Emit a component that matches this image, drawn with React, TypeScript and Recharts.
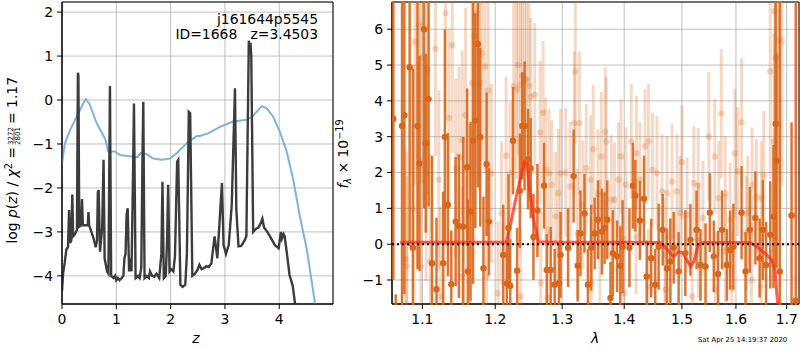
import React from "react";
import {
  ComposedChart,
  Line,
  Scatter,
  ErrorBar,
  XAxis,
  YAxis,
  CartesianGrid,
  ReferenceLine,
  ReferenceArea,
} from "recharts";

// left panel: log p(z) (dark) and scaled chi2 (blue)
const pzZ = [0, 0.02, 0.05, 0.08, 0.11, 0.13, 0.15, 0.17, 0.19, 0.205, 0.24, 0.275, 0.293, 0.302, 0.318, 0.35, 0.368, 0.385, 0.44, 0.475, 0.487, 0.5, 0.58, 0.62, 0.645, 0.66, 0.675, 0.7, 0.74, 0.765, 0.785, 0.83, 0.855, 0.883, 0.905, 0.95, 0.98, 1.0, 1.03, 1.06, 1.1, 1.13, 1.15, 1.17, 1.19, 1.21, 1.235, 1.26, 1.28, 1.31, 1.325, 1.355, 1.4, 1.43, 1.46, 1.485, 1.497, 1.52, 1.56, 1.6, 1.62, 1.66, 1.7, 1.74, 1.79, 1.83, 1.85, 1.875, 1.91, 1.935, 1.955, 1.98, 2.01, 2.05, 2.08, 2.12, 2.14, 2.18, 2.22, 2.27, 2.3, 2.335, 2.36, 2.4, 2.45, 2.5, 2.53, 2.57, 2.62, 2.66, 2.7, 2.75, 2.79, 2.81, 2.835, 2.86, 2.9, 2.945, 2.975, 3.02, 3.07, 3.125, 3.185, 3.21, 3.25, 3.3, 3.36, 3.395, 3.44, 3.455, 3.47, 3.485, 3.52, 3.58, 3.62, 3.665, 3.69, 3.72, 3.78, 3.83, 3.92, 3.99, 4.03, 4.05, 4.08, 4.1, 4.14, 4.19, 4.25, 4.29, 4.33];
const pzLog = [-4.35, -3.95, -3.7, -3.4, -3.35, -2.5, -3.25, -3.2, -2.15, -3.1, -3.05, -2.95, 0.62, 0.55, -2.88, -2.85, -2.25, -2.85, -2.85, -2.85, -2.55, -2.85, -3.14, -3.35, -3.2, -2.1, -2.05, -3.45, -2.9, -1.36, -3.6, -3.9, -3.95, 0.32, -4.0, -4.05, -4.0, -4.1, -4.05, -4.1, -4.05, -4.0, -3.6, -3.5, -2.6, -2.46, -3.9, -3.6, -3.9, -1.5, -0.08, -4.05, -4.0, -4.05, -3.8, -1.0, -0.04, -4.05, -4.0, -4.05, -3.9, -4.0, -4.02, -3.95, -4.05, -3.5, -1.86, -4.05, -4.0, -3.2, -1.93, -3.9, -3.85, -3.9, -3.55, -1.4, -1.36, -4.2, -4.25, -4.2, -3.5, -0.27, -0.3, -4.0, -3.95, -3.85, -3.75, -3.85, -3.82, -3.78, -3.8, -3.72, -3.3, -3.1, -3.35, -3.6, -2.8, -1.89, -3.3, -3.5, -3.3, -2.4, 0.27, -2.5, -3.33, -3.32, -3.2, -3.1, 1.35, 1.2, 1.3, 1.0, -3.0, -2.92, -2.9, -2.78, -2.7, -2.9, -3.0, -3.1, -3.3, -3.37, -3.0, -3.15, -3.05, -3.1, -3.48, -3.98, -4.24, -4.62, -5.0];

const chiZ = [0, 0.055, 0.15, 0.27, 0.39, 0.44, 0.51, 0.64, 0.76, 0.8, 0.85, 0.97, 1.07, 1.31, 1.39, 1.45, 1.56, 1.68, 1.84, 1.99, 2.11, 2.3, 2.48, 2.54, 2.69, 2.91, 3.15, 3.4, 3.5, 3.68, 3.77, 3.89, 4.01, 4.13, 4.26, 4.38, 4.51, 4.66, 4.72];
const chiVal = [-1.44, -0.98, -0.68, -0.38, -0.08, 0.02, -0.1, -0.53, -0.8, -0.9, -1.17, -1.17, -1.25, -1.29, -1.3, -1.2, -1.23, -1.33, -1.36, -1.33, -1.21, -0.98, -0.82, -0.82, -0.76, -0.61, -0.49, -0.45, -0.38, -0.14, -0.19, -0.38, -0.72, -1.14, -1.82, -2.65, -3.41, -4.64, -5.1];

// right panel: spectrum points (two sets), errors and model
const darkLam = [1.0625, 1.0655, 1.0736, 1.0766, 1.0834, 1.0876, 1.0936, 1.0962, 1.1023, 1.1045, 1.1082, 1.1127, 1.1187, 1.1278, 1.13, 1.1341, 1.1387, 1.1446, 1.1491, 1.1551, 1.1605, 1.1614, 1.1651, 1.1687, 1.1719, 1.1755, 1.1787, 1.1833, 1.1878, 1.191, 1.2116, 1.2167, 1.2192, 1.2217, 1.2258, 1.2319, 1.2359, 1.2394, 1.2429, 1.248, 1.252, 1.2561, 1.2621, 1.2722, 1.2763, 1.2823, 1.2884, 1.295, 1.2975, 1.3092, 1.3179, 1.3243, 1.3287, 1.3352, 1.3406, 1.346, 1.3514, 1.3568, 1.3633, 1.3676, 1.372, 1.3773, 1.3811, 1.3882, 1.3935, 1.3973, 1.4088, 1.4147, 1.4188, 1.4265, 1.4335, 1.4382, 1.4459, 1.4529, 1.4588, 1.4659, 1.4735, 1.4794, 1.4853, 1.4941, 1.5061, 1.5153, 1.5264, 1.5337, 1.5429, 1.5509, 1.5582, 1.5662, 1.5736, 1.5828, 1.5889, 1.5951, 1.6108, 1.6185, 1.6268, 1.6376, 1.6459, 1.6522, 1.6586, 1.6669, 1.6733, 1.6777, 1.6796, 1.686, 1.7099, 1.7185];
const darkFlux = [3.5, -1.9, 3.3, 3.6, 4.94, -0.1, 3.3, 2.25, 6.0, 2.82, 4.05, -0.53, -1.26, -0.53, 2.99, 1.1, -1.12, 0.63, 0.5, 0.49, 2.15, -0.76, 0.91, 2.89, 3.45, 5.59, 2.99, -0.67, 2.23, 0.63, -0.3, -1.1, 0.45, -1.16, 2.89, -0.74, 1.49, 3.3, 3.3, 2.37, 2.12, 0.2, 0.94, 1.63, -0.72, -0.72, -1.13, -1.09, -0.3, -0.1, 1.9, -0.6, 0.3, 0.86, -1.13, -0.1, 0.3, 0.68, 0.35, 0.45, 0.68, -1.5, -0.25, -0.34, -0.6, -0.07, -0.1, 1.63, 1.35, 0.66, 1.27, -0.9, -0.39, -1.13, -0.07, 0.4, -0.67, -0.48, -0.1, -0.76, -0.25, 0.12, 0.4, -0.58, -0.62, 0.88, -0.34, -0.83, 0.4, -0.58, -0.16, -0.07, 0.88, -0.76, 0.4, 0.73, -0.39, 0.4, -0.58, 0.26, 0.77, 3.36, 2.33, -0.76, 0.8, -1.58];
const darkErr = [4.5, 0.5, 8, 5, 5, 5, 4, 3, 5, 2.5, 3, 3, 2, 2, 3, 2, 1.5, 1.8, 2, 2.5, 2.2, 2, 2.5, 4, 3, 4, 2.5, 2, 2, 1.5, 1.4, 1.2, 1.5, 1.3, 1.5, 1.2, 1.6, 1.5, 1.8, 1.4, 1.4, 1.2, 1.3, 1.2, 1.0, 1.2, 1.0, 1.1, 1.2, 1.1, 1.3, 1.0, 1.2, 1.1, 1.0, 1.2, 1.0, 1.1, 1.2, 1.0, 1.1, 1.0, 1.2, 1.0, 1.1, 1.3, 1.1, 1.2, 1.0, 1.1, 1.2, 1.0, 1.1, 1.0, 1.2, 1.0, 1.1, 1.2, 1.0, 1.1, 1.2, 1.0, 1.1, 1.0, 1.2, 1.1, 1.0, 1.2, 1.1, 1.0, 1.1, 1.2, 1.3, 1.1, 1.2, 1.3, 1.1, 1.4, 1.2, 1.5, 2, 4, 3, 8, 2.6, 9];

const lightLam = [1.0791, 1.08, 1.0885, 1.0906, 1.0962, 1.0979, 1.0991, 1.105, 1.1068, 1.1105, 1.1173, 1.1218, 1.1241, 1.1309, 1.1355, 1.14, 1.1446, 1.1491, 1.1537, 1.1537, 1.1582, 1.1642, 1.1673, 1.1705, 1.1742, 1.1778, 1.181, 1.1855, 1.1878, 1.1901, 1.1946, 1.204, 1.2091, 1.2157, 1.2217, 1.2268, 1.2308, 1.2334, 1.2369, 1.2369, 1.2394, 1.2429, 1.246, 1.2495, 1.252, 1.2581, 1.2662, 1.2672, 1.2707, 1.2747, 1.2773, 1.2798, 1.2838, 1.2899, 1.294, 1.2975, 1.3054, 1.3124, 1.3189, 1.3206, 1.324, 1.327, 1.3325, 1.3379, 1.346, 1.3449, 1.3492, 1.3568, 1.36, 1.3622, 1.3687, 1.3703, 1.3784, 1.3838, 1.3903, 1.3946, 1.4, 1.4029, 1.4118, 1.4206, 1.42, 1.4265, 1.4353, 1.4412, 1.4412, 1.4482, 1.4559, 1.4647, 1.47, 1.4706, 1.4735, 1.4824, 1.4912, 1.4971, 1.5, 1.5092, 1.5184, 1.5215, 1.5294, 1.53, 1.538, 1.549, 1.56, 1.5613, 1.5674, 1.5723, 1.58, 1.5797, 1.5889, 1.592, 1.5981, 1.6032, 1.6108, 1.62, 1.6223, 1.6299, 1.6312, 1.6395, 1.6491, 1.6491, 1.6541, 1.6669, 1.6745, 1.6758, 1.6777, 1.6841, 1.6904];
const lightFlux = [-0.42, -0.62, 1.0, 5.65, 6.12, -0.62, 5.2, 1.98, 4.87, -0.48, 5.45, 1.8, -1.46, 6.45, 3.52, 5.55, 2.12, 2.45, 2.91, -0.9, 3.6, 0.87, 4.49, 5.81, 6.45, 4.49, 5.33, 4.96, -0.9, 4.29, 1.98, -1.37, 0.87, 2.47, 1.98, 4.42, 4.31, 5.0, 4.45, -1.46, 4.7, 4.59, 4.59, 4.42, 4.12, 4.17, 3.12, -1.09, 3.67, 2.09, -1.5, 1.98, 1.66, 0.77, 1.42, 1.98, 2.0, 1.61, 3.38, 4.82, 0.3, 3.38, 1.1, 2.12, -1.09, 1.8, 2.65, 1.4, 0.0, 2.45, 3.14, 2.87, 1.24, 1.24, 1.8, 2.45, -1.37, 1.66, 2.87, 2.54, 0.2, 1.8, 2.73, 2.87, -1.18, 2.07, 1.98, 1.47, -0.3, -1.27, 1.42, 1.75, 1.47, 0.87, 2.29, 0.82, -1.46, 1.7, 1.64, 0.1, 0.73, 3.0, 2.45, -1.27, 1.28, 3.65, -0.2, 1.42, 0.68, -1.23, 2.54, 2.03, 3.4, 0.3, 0.87, -1.0, 1.66, 1.33, 1.28, -1.18, 1.92, 4.82, 2.87, 6.5, 5.2, 5.7, 5.65];
const lightErr = [3, 2.5, 4, 4, 4, 3, 3.5, 3, 3.5, 3, 3, 2.5, 2.5, 3, 2.5, 3, 2.5, 2.5, 2.5, 2.5, 3, 2.5, 3, 3, 3, 3, 3, 3, 2.5, 2.5, 2.5, 2, 2, 2.2, 2, 2.5, 2.5, 2.5, 2.5, 2, 2.5, 2.5, 2.5, 2.5, 2.2, 2, 2, 2, 2, 2, 2, 1.8, 1.8, 1.8, 1.8, 1.8, 1.8, 1.8, 2, 2, 1.8, 2, 1.8, 1.8, 1.8, 1.8, 1.8, 1.8, 1.8, 1.8, 1.8, 1.8, 1.8, 1.6, 1.6, 1.6, 1.6, 1.6, 1.6, 1.6, 1.6, 1.6, 1.6, 1.6, 1.6, 1.6, 1.6, 1.6, 1.6, 1.6, 1.6, 1.6, 1.6, 1.6, 1.6, 1.6, 1.6, 1.6, 1.6, 1.6, 1.6, 1.8, 1.6, 1.6, 1.6, 1.8, 1.6, 1.6, 1.6, 1.6, 1.8, 1.8, 1.8, 1.6, 1.6, 1.6, 1.6, 1.6, 1.6, 1.6, 1.8, 3, 3, 4, 4, 4, 4];

const modelLam = [1.0711, 1.1, 1.15, 1.2, 1.2157, 1.2231, 1.2275, 1.235, 1.2425, 1.2466, 1.2504, 1.2572, 1.2639, 1.3, 1.35, 1.4, 1.4612, 1.4691, 1.4854, 1.4935, 1.5017, 1.5155, 1.521, 1.5296, 1.538, 1.58, 1.6271, 1.64, 1.66, 1.6699, 1.6766, 1.6799, 1.6833, 1.686];
const modelFlux = [0.056, 0.056, 0.056, 0.056, 0.056, 0.63, 1.05, 1.7, 2.3, 2.26, 1.52, 0.6, 0.07, 0.056, 0.056, 0.056, 0.05, -0.07, -0.35, -0.2, -0.25, -0.62, -0.5, -0.02, 0.05, 0.05, 0.05, -0.07, -0.3, -0.44, -0.72, -1.37, -1.8, -3.0];

const zTicks = [0, 1, 2, 3, 4];
const pTicks = [-4, -3, -2, -1, 0, 1, 2];
const lamTicks = [1.1, 1.2, 1.3, 1.4, 1.5, 1.6, 1.7];
const fTicks = [-1, 0, 1, 2, 3, 4, 5, 6];

const pzData = pzZ.map((z, i) => ({ z, v: pzLog[i] }));
const chiData = chiZ.map((z, i) => ({ z, v: chiVal[i] }));
const darkData = darkLam.map((lam, i) => ({ lam, flux: darkFlux[i], err: darkErr[i] }));
const lightData = lightLam.map((lam, i) => ({ lam, flux: lightFlux[i], err: lightErr[i] }));
const modelData = modelLam.map((lam, i) => ({ lam, flux: modelFlux[i] }));

const FONT = "DejaVu Sans";
const tickStyle = { fontSize: 13.9, fill: "#000", fontFamily: FONT };
const minus = (v: number) => String(v).replace("-", "\u2212");
const ORANGE = "#d9661a";
const LAM_DOMAIN: [number, number] = [1.0608, 1.7252];
const F_DOMAIN: [number, number] = [-1.67, 6.76];

const dot = (r: number, fill: string, op: number) => (p: any) => (
  <circle cx={p.cx} cy={p.cy} r={r} fill={fill} fillOpacity={op} />
);

function LeftPanel() {
  return (
    <ComposedChart width={340} height={350} margin={{ top: 2, right: 7, bottom: 16, left: 22 }}>
      <CartesianGrid stroke="#b0b0b0" strokeWidth={0.8} />
      <XAxis dataKey="z" type="number" domain={[0, 4.99]} ticks={zTicks} allowDataOverflow
        tick={tickStyle} tickSize={5} tickMargin={5} height={30} stroke="#000" tickFormatter={minus} />
      <YAxis type="number" domain={[-4.64, 2.23]} ticks={pTicks} allowDataOverflow
        tick={tickStyle} tickSize={5} tickMargin={4} width={40} stroke="#000" tickFormatter={minus} />
      <Line data={chiData} dataKey="v" stroke="#80b3d9" strokeWidth={2} dot={false} isAnimationActive={false} />
      <Line data={pzData} dataKey="v" stroke="#3c3c3c" strokeWidth={2.4} dot={false} isAnimationActive={false} />
      <ReferenceArea x1={0} x2={4.99} y1={-4.64} y2={2.23} fill="none" stroke="#000" strokeWidth={1} />
    </ComposedChart>
  );
}

// axes and grid of the spectrum panel
function RightAxes() {
  return (
    <ComposedChart width={460} height={350} data={modelData} margin={{ top: 2, right: 1, bottom: 16, left: 12 }}>
      <CartesianGrid stroke="#b0b0b0" strokeWidth={0.8} />
      <XAxis dataKey="lam" type="number" scale="log" domain={LAM_DOMAIN} ticks={lamTicks} allowDataOverflow
        tick={tickStyle} tickSize={5} tickMargin={5} height={30} stroke="#000" />
      <YAxis dataKey="flux" type="number" domain={F_DOMAIN} ticks={fTicks} allowDataOverflow
        tick={tickStyle} tickSize={5} tickMargin={4} width={40} stroke="#000" tickFormatter={minus} />
    </ComposedChart>
  );
}

// data of the spectrum panel, drawn in a box the size of the plot area so it clips
function RightData() {
  return (
    <ComposedChart width={409} height={304} margin={{ top: 1, right: 1, bottom: 1, left: 1 }}>
      <XAxis dataKey="lam" type="number" scale="log" domain={LAM_DOMAIN} allowDataOverflow hide />
      <YAxis dataKey="flux" type="number" domain={F_DOMAIN} allowDataOverflow hide />
      <Scatter data={lightData} dataKey="flux" shape={dot(3.2, ORANGE, 0.25)} isAnimationActive={false}>
        <ErrorBar dataKey="err" direction="y" width={0} stroke={ORANGE} strokeOpacity={0.25} strokeWidth={3} />
      </Scatter>
      <Scatter data={darkData} dataKey="flux" shape={dot(3.2, ORANGE, 1)} isAnimationActive={false}>
        <ErrorBar dataKey="err" direction="y" width={0} stroke={ORANGE} strokeOpacity={0.9} strokeWidth={2.5} />
      </Scatter>
      <Line data={modelData} dataKey="flux" stroke="#ff2a1a" strokeOpacity={0.75} strokeWidth={3} dot={false} isAnimationActive={false} />
      <ReferenceLine y={0} stroke="#000" strokeWidth={2} strokeDasharray="2 3" />
      <ReferenceArea x1={LAM_DOMAIN[0]} x2={LAM_DOMAIN[1]} y1={F_DOMAIN[0]} y2={F_DOMAIN[1]} fill="none" stroke="#000" strokeWidth={1} />
    </ComposedChart>
  );
}

function Labels() {
  return (
    <svg width={800} height={350} style={{ position: "absolute", left: 0, top: 0, pointerEvents: "none" }}
      fontFamily={FONT} fill="#000">
      <text x={318} y={24} fontSize={13.9} textAnchor="end">j161644p5545</text>
      <text x={318} y={39} fontSize={13.9} textAnchor="end" xmlSpace="preserve">ID=1668   z=3.4503</text>
      <g transform="translate(17,240) rotate(-90)">
        <text x={93} y={0} fontSize={13.9} textAnchor="end">
          log <tspan fontStyle="italic">p</tspan>(<tspan fontStyle="italic">z</tspan>) / <tspan fontStyle="italic">χ</tspan>
          <tspan dy={-5} fontSize={9.7}>2</tspan><tspan dy={5}> =</tspan>
        </text>
        <text x={104} y={-4.5} fontSize={7} textAnchor="middle">3272</text>
        <line x1={97} x2={111} y1={-3} y2={-3} stroke="#000" strokeWidth={0.6} />
        <text x={104} y={3} fontSize={7} textAnchor="middle">2801</text>
        <text x={116} y={0} fontSize={13.9}>= 1.17</text>
      </g>
      <text x={196} y={343} fontSize={13.9} fontStyle="italic" textAnchor="middle">z</text>
      <g transform="translate(348,154) rotate(-90)">
        <text x={0} y={0} fontSize={13.9} textAnchor="middle">
          <tspan fontStyle="italic">f</tspan><tspan dy={3} fontSize={9.7} fontStyle="italic">λ</tspan>
          <tspan dy={-3}> × 10</tspan><tspan dy={-5} fontSize={9.7}>−19</tspan>
        </text>
      </g>
      <text x={595} y={343} fontSize={13.9} fontStyle="italic" textAnchor="middle">λ</text>
      <text x={698} y={342} fontSize={6.9}>Sat Apr 25 14:19:37 2020</text>
    </svg>
  );
}

export default function App() {
  return (
    <div style={{ position: "absolute", left: 0, top: 0, width: 800, height: 350, background: "#fff", fontFamily: FONT }}>
      <div style={{ position: "absolute", left: 0, top: 0 }}>
        <LeftPanel />
      </div>
      <div style={{ position: "absolute", left: 340, top: 0 }}>
        <RightAxes />
      </div>
      <div style={{ position: "absolute", left: 391, top: 1, width: 409, height: 304, overflow: "hidden" }}>
        <RightData />
      </div>
      <Labels />
    </div>
  );
}
